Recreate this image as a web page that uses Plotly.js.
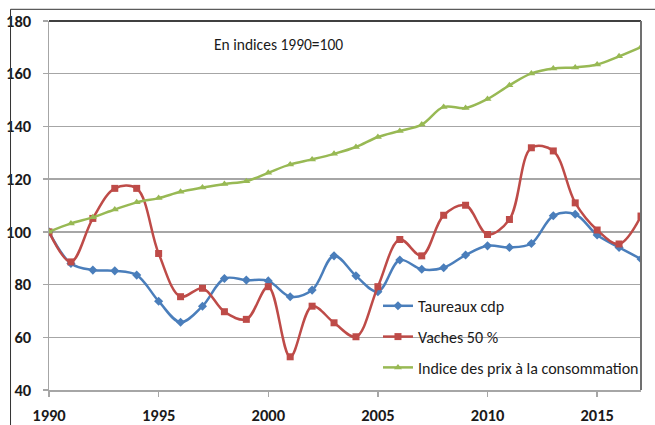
<!DOCTYPE html>
<html>
<head>
<meta charset="utf-8">
<script src="https://cdn.plot.ly/plotly-3.0.1.min.js"></script>
<style>html,body{margin:0;padding:0;background:#fff;}#chart{width:655px;height:425px;}</style>
</head>
<body>
<div id="chart"></div>
<script>
const years = [1990,1991,1992,1993,1994,1995,1996,1997,1998,1999,2000,2001,2002,2003,2004,2005,2006,2007,2008,2009,2010,2011,2012,2013,2014,2015,2016,2017];
const taureaux = [100,88.0,85.5,85.2,83.6,73.7,65.7,71.8,82.3,81.7,81.4,75.4,77.9,90.9,83.3,77.3,89.3,85.8,86.4,91.2,94.7,94.1,95.6,106.1,106.7,98.8,94.1,89.7];
const vaches = [100,88.6,105.1,116.5,116.5,91.8,75.4,78.6,69.7,66.8,79.2,52.6,71.8,65.5,60.2,79.2,97.1,90.9,106.3,110.1,99.0,104.7,131.9,130.7,111.0,100.7,95.4,106.0];
const ipc = [100,103.2,105.5,108.5,111.2,112.8,115.2,116.8,118.2,119.2,122.4,125.6,127.5,129.6,132.2,136.0,138.3,140.7,147.4,147.0,150.4,155.6,160.1,162.0,162.4,163.5,166.6,170.1];
const seriesNames = ["Taureaux cdp","Vaches 50 %","Indice des prix à la consommation"];
const xTicks = [1990,1995,2000,2005,2010,2015];
const yTicks = [40,60,80,100,120,140,160,180];
const noteText = "En indices 1990=100";

// pick a Calibri-like font if present
function hasFont(name){
  const c = document.createElement('canvas').getContext('2d');
  const s = 'mmmmmwwwiilT1990=100';
  c.font = '40px monospace'; const a = c.measureText(s).width;
  c.font = '40px "' + name + '", monospace'; const b = c.measureText(s).width;
  return Math.abs(a - b) > 0.5;
}
let FONT, TS, LS;
if (hasFont('Carlito')) { FONT = 'Carlito, sans-serif'; TS = 16.5; LS = 16; }
else { FONT = '"Liberation Sans", Arial, sans-serif'; TS = 14; LS = 13.5; }

function tr(y, name, color, symbol, msize, g){
  return {x: years, y: y, name: name, type:'scatter', mode:'lines+markers',
    legendgroup: g,
    line:{color:color, width:2.5, shape:'spline', smoothing:1},
    marker:{color:color, symbol:symbol, size:msize}};
}
const data = [
  tr(taureaux, seriesNames[0], '#4A7EBB', 'diamond', 7, 'a'),
  tr(vaches, seriesNames[1], '#BE4B48', 'square', 7, 'b'),
  tr(ipc, seriesNames[2], '#98B954', 'triangle-up', 7, 'c')
];
const layout = {
  width:655, height:425,
  margin:{l:49, r:14, t:21, b:35, autoexpand:false},
  paper_bgcolor:'#fff', plot_bgcolor:'#fff',
  font:{family:FONT, size:LS, color:'#1a1a1a'},
  xaxis:{range:[1990,2017], tickvals:xTicks, showgrid:false, zeroline:false,
    showline:true, linecolor:'#a6a6a6', linewidth:1.5,
    ticks:'outside', ticklen:5, tickcolor:'#a6a6a6', tickwidth:1.5,
    ticklabelstandoff:5,
    tickfont:{family:FONT, size:TS, color:'#1a1a1a', weight:'bold'}},
  yaxis:{range:[40,180], tickvals:yTicks, showgrid:true, gridcolor:'#a6a6a6', gridwidth:1.5,
    zeroline:false, showline:true, linecolor:'#a6a6a6', linewidth:1.5,
    ticks:'outside', ticklen:5, tickcolor:'#a6a6a6', tickwidth:1.5,
    ticklabelstandoff:8,
    tickfont:{family:FONT, size:TS, color:'#1a1a1a', weight:'bold'}},
  showlegend:true,
  legend:{x:0.5557, y:0.274, xanchor:'left', yanchor:'top', bgcolor:'rgba(0,0,0,0)',
    traceorder:'grouped', tracegroupgap:7,
    font:{family:FONT, size:LS, color:'#1a1a1a'}},
  annotations:[{text:noteText, xref:'paper', yref:'paper', x:0.387, y:0.935,
    xanchor:'center', yanchor:'middle', showarrow:false,
    font:{family:FONT, size:15.5, color:'#1a1a1a'}}],
  shapes:[
    {type:'line', xref:'paper', yref:'paper', x0:0, x1:1, y0:1, y1:1, line:{color:'#404040', width:2}},
    {type:'line', xref:'paper', yref:'paper', x0:1, x1:1, y0:0, y1:1, line:{color:'#707070', width:2}},
    {type:'line', xref:'paper', yref:'paper', x0:-0.065, x1:1.03, y0:1.0317, y1:1.0317, line:{color:'#333', width:1}},
    {type:'line', xref:'paper', yref:'paper', x0:-0.065, x1:-0.065, y0:-0.1, y1:1.0317, line:{color:'#333', width:1}}
  ]
};
Plotly.newPlot('chart', data, layout, {displayModeBar:false, staticPlot:true});
</script>
</body>
</html>
